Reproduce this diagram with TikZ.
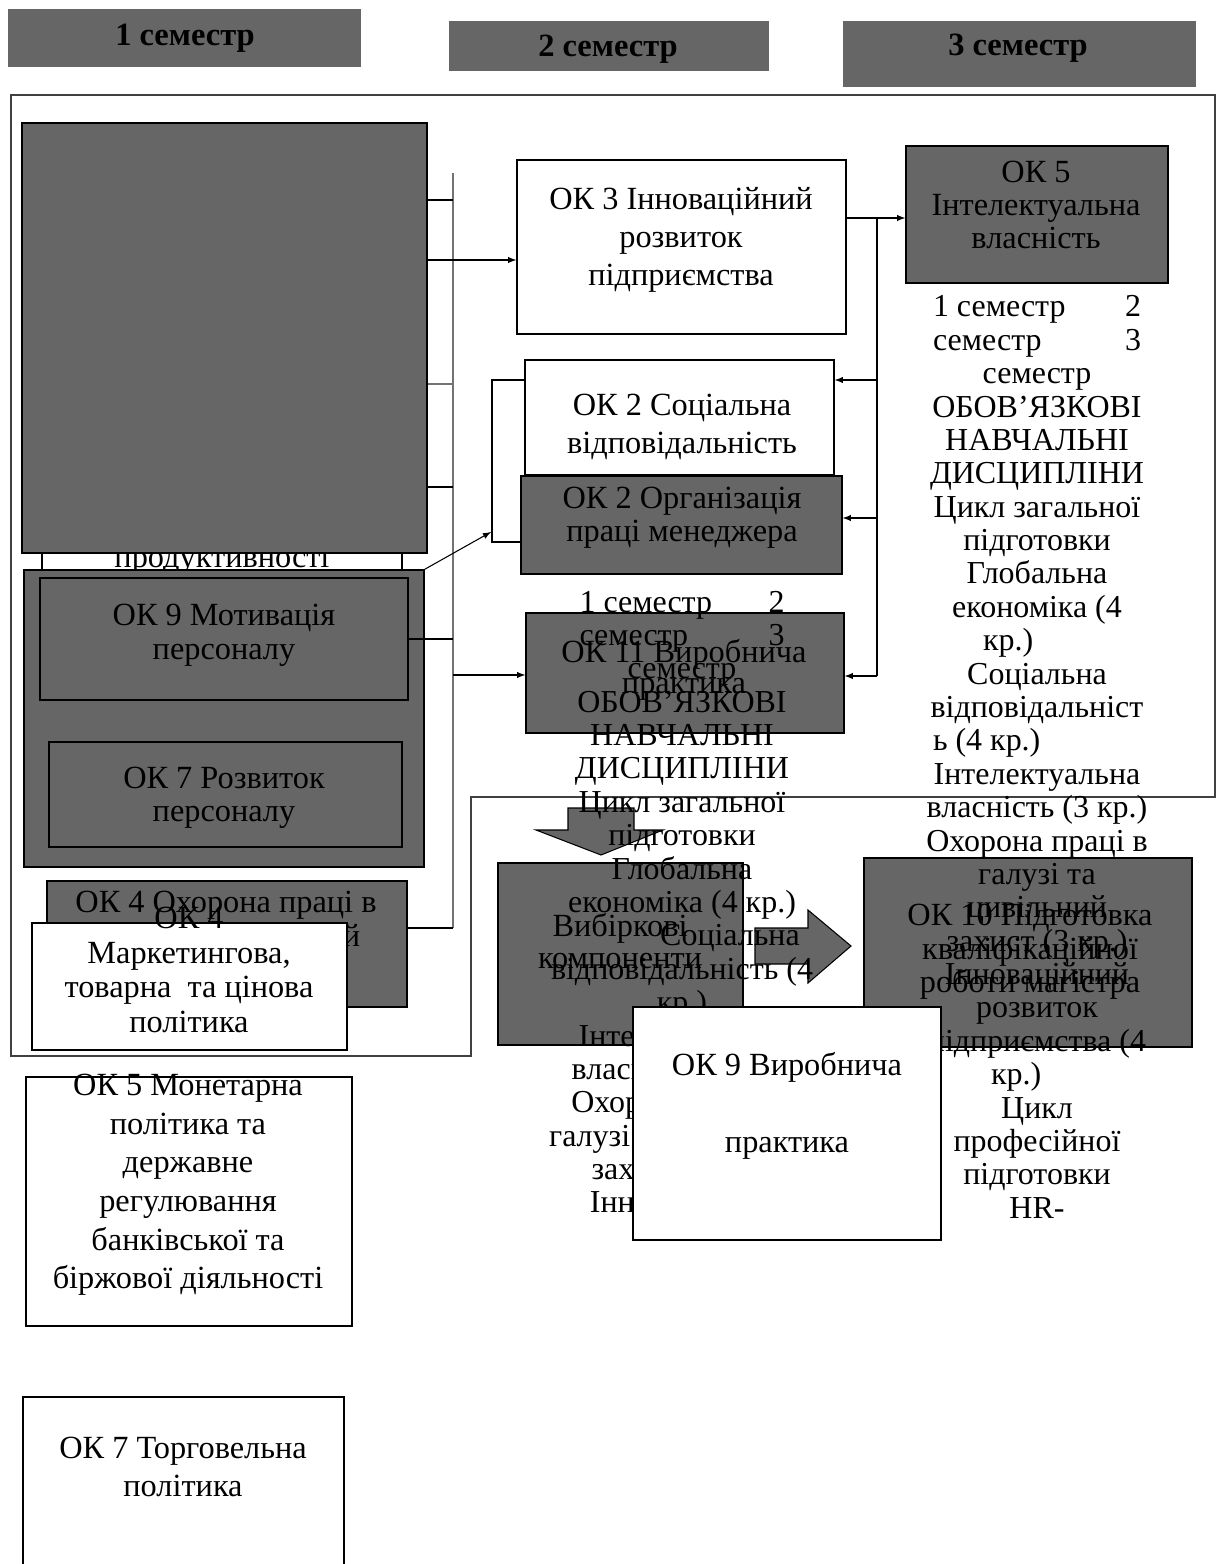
\documentclass[tikz,border=0pt]{standalone}
\usepackage{fontspec}
\setmainfont{Liberation Serif}
\usetikzlibrary{fit}
\definecolor{boxgray}{RGB}{102,102,102}
\tikzset{
	gbox/.style={draw, fill=boxgray, line width=0.8pt, inner sep=0pt},
	wbox/.style={draw, fill=white, line width=0.8pt, inner sep=0pt},
	hbox/.style={fill=boxgray, inner sep=0pt},
	htxt/.style={font=\fontsize{18.5}{20}\selectfont\bfseries, inner sep=0pt},
	btxt/.style={align=center, font=\fontsize{18.4}{#1}\selectfont, inner sep=0pt},
	btxt/.default=21.5,
	ctxt/.style={align=center, font=\fontsize{18.2}{19}\selectfont, inner sep=0pt},
	wire/.style={line width=0.6pt},
}

\begin{document}
\begin{tikzpicture}[x=0.02cm, y=-0.02cm, >=latex]
		\useasboundingbox (0,0) rectangle (1222,1564);
		\clip (0,0) rectangle (1222,1564);
		%%%%% START %%%%%
		
		\draw[line width=0.7pt, color=black!75] (11,95) -- (1215,95) -- (1215,797) -- (471,797) -- (471,1056) -- (11,1056) -- cycle;
		
		% semesters
		\node[hbox, fit={(8,9) (361,67)}] (sem1) {};
		\node[htxt] (sem1t) at (185,38) {1 семестр};
		\node[hbox, fit={(449,21) (769,71)}] (sem2) {};
		\node[htxt] (sem2t) at (608,49) {2 семестр};
		\node[hbox, fit={(843,21) (1196,87)}] (sem3) {};
		\node[htxt] (sem3t) at (1018,48) {3 семестр};
		
		% left column
		\node[wbox, fit={(42,470) (402,570)}] (prod) {};
		\node[btxt, anchor=base] (prodt) at (222,567) {продуктивності};
		\node[gbox, fit={(22,123) (427,553)}] (big) {};
		
		\node[gbox, fit={(24,570) (424,867)}] (grp) {};
		\node[gbox, fit={(40,578) (408,700)}] (ok9m) {};
		\node[btxt=19.3] (ok9mt) at (224,635) {ОК 9 Мотивація\\персоналу};
		\node[gbox, fit={(49,742) (402,847)}] (ok7r) {};
		\node[btxt=19] (ok7rt) at (224,798) {ОК 7 Розвиток\\персоналу};
		
		\node[gbox, fit={(47,881) (407,1007)}] (ok4o) {};
		\node[btxt=19.5] (ok4ot) at (226,922) {ОК 4 Охорона праці в\\галузі та цивільний};
		\node[wbox, fit={(32,923) (347,1050)}] (ok4m) {};
		\node[btxt=19.7] (ok4mt) at (189,970) {ОК 4\\Маркетингова,\\товарна\ \ та цінова\\політика};
		
		% bus
		\coordinate (bt) at (453,173);
		\coordinate (bb) at (453,928);
		\draw[line width=0.9pt, color=black!55] (bt) -- (bb);
		\coordinate (y200) at (453,200);
		\coordinate (y384) at (453,384);
		\coordinate (y487) at (453,487);
		\draw[line width=1.2pt] (big.east |- y200) -- (y200);
		\draw[wire, color=black!55] (big.east |- y384) -- (y384);
		\draw[wire] (big.east |- y487) -- (y487);
		\draw[wire] (ok9m.east) -- (ok9m.east -| bt);
		\draw[wire] (ok4o.east |- bb) -- (bb);
		
		% middle column
		\node[wbox, fit={(517,160) (846,334)}] (ok3) {};
		\node[btxt] (ok3t) at (681,240) {ОК 3 Інноваційний\\розвиток\\підприємства};
		\node[wbox, fit={(525,360) (834,475)}] (ok2s) {};
		\node[btxt=22] (ok2st) at (682,427) {ОК 2 Соціальна\\відповідальність};
		\node[gbox, fit={(521,476) (842,574)}] (ok2o) {};
		\node[btxt=19] (ok2ot) at (682,518) {ОК 2 Організація\\праці менеджера};
		\node[gbox, fit={(526,613) (844,733)}] (ok11) {};
		\node[btxt=17.5] (ok11t) at (684,670) {ОК 11 Виробнича\\практика};
		
		\node[gbox, fit={(906,146) (1168,283)}] (ok5i) {};
		\node[btxt=19] (ok5it) at (1036,205) {ОК 5\\Інтелектуальна\\власність};
		
		\coordinate (j3) at (453,260);
		\draw[wire, ->] (big.east |- j3) -- (ok3.west |- j3);
		\coordinate (j11) at (453,675);
		\draw[wire, ->] (j11) -- (ok11.west |- j11);
		
		\coordinate (r0) at (877,218);
		\coordinate (r1) at (877,676);
		\coordinate (r2) at (877,380);
		\coordinate (r3) at (877,518);
		\draw[wire, ->] (ok3.east |- r0) -- (ok5i.west |- r0);
		\draw[wire] (r0) -- (r1);
		\draw[wire, ->] (r2) -- (ok2s.east |- r2);
		\draw[wire, ->] (r3) -- (ok2o.east |- r3);
		\draw[wire, ->] (r1) -- (ok11.east |- r1);
		
		\coordinate (k1) at (492,380);
		\coordinate (k2) at (492,542);
		\coordinate (k3) at (491,532);
		\draw[wire] (ok2s.west |- k1) -- (k1) -- (k2) -- (ok2o.west |- k2);
		\draw[wire, ->] (grp.north east) -- (k3);
		
		% lower part
		\node[gbox, fit={(498,863) (743,1045)}] (vyb) {};
		\node[btxt=18] (vybt) at (620,941) {Вибіркові\\компоненти};
		\node[gbox, fit={(864,858) (1192,1047)}] (ok10) {};
		\node[btxt=19] (ok10t) at (1030,952) {ОК 10 Підготовка\\кваліфікаційної\\роботи магістра};
		
		\draw[fill=boxgray, line width=0.6pt] (568,808) -- (634,808) -- (634,830) -- (663,830) -- (601,855) -- (536,830) -- (568,830) -- cycle;
		\draw[fill=boxgray, line width=0.6pt] (755,928) -- (808,928) -- (808,910) -- (851,946) -- (808,983) -- (808,964) -- (755,964) -- cycle;
		
		% text columns
		\node[ctxt] (colm) at (682,905) {\makebox[4.1cm]{1 семестр\hfill 2}\\
			\makebox[4.1cm]{семестр\hfill 3}\\
			семестр\\ОБОВ’ЯЗКОВІ\\НАВЧАЛЬНІ\\ДИСЦИПЛІНИ\\Цикл загальної\\підготовки\\Глобальна\\
			економіка (4 кр.)\\\hspace*{1.92cm}Соціальна\\відповідальність (4\\кр.)\hspace*{0.88cm}\\
			Інтелектуальна\\власність (3 кр.)\\Охорона праці в\\галузі та цивільний\\захист (3 кр.)\\Інноваційний};
		\node[ctxt] (colr) at (1037,757) {\makebox[4.16cm]{1 семестр\hfill 2}\\
			\makebox[4.16cm]{семестр\hfill 3}\\
			семестр\\ОБОВ’ЯЗКОВІ\\НАВЧАЛЬНІ\\ДИСЦИПЛІНИ\\Цикл загальної\\підготовки\\Глобальна\\економіка (4\\
			\makebox[4.16cm][l]{\hspace*{1cm}кр.)}\\Соціальна\\відповідальніст\\\makebox[4.16cm][l]{ь (4 кр.)}\\
			Інтелектуальна\\власність (3 кр.)\\Охорона праці в\\галузі та\\цивільний\\захист (3 кр.)\\
			Інноваційний\\розвиток\\підприємства (4\\\makebox[4.16cm][l]{\hspace*{1.16cm}кр.)}\\
			Цикл\\професійної\\підготовки\\HR-};
		
		\node[wbox, fit={(633,1007) (941,1240)}] (ok9v) {};
		\node[btxt] (ok9vt) at (787,1106) {ОК 9 Виробнича\\[22pt]практика};
		
		% outside the frame
		\node[wbox, fit={(26,1077) (352,1326)}] (ok5m) {};
		\node[btxt=22] (ok5mt) at (188,1185) {ОК 5 Монетарна\\політика та\\державне\\регулювання\\банківської та\\біржової діяльності};
		\node[wbox, fit={(23,1397) (344,1620)}] (ok7t) {};
		\node[btxt=22] (ok7tt) at (183,1467) {ОК 7 Торговельна\\політика};
		
		%%%%% END %%%%%
\end{tikzpicture}
\end{document}
